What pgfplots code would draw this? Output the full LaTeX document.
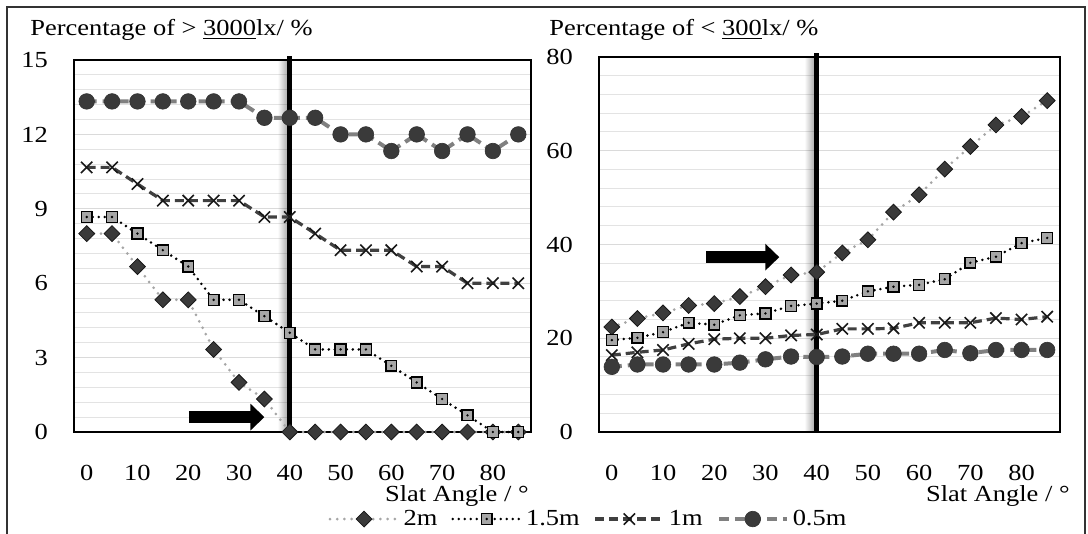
\documentclass[border=0pt]{standalone}
\usepackage{fontspec}
\setmainfont{Liberation Serif}[FakeStretch=1.15]
\usepackage{pgfplots}
\pgfplotsset{compat=1.18}
\usetikzlibrary{arrows.meta,fadings}

\definecolor{lgray}{HTML}{A6A6A6}
\definecolor{dgray}{HTML}{404040}
\definecolor{mgray}{HTML}{808080}
\definecolor{mk}{HTML}{3A3A3A}
\definecolor{gridc}{HTML}{DADADA}

\tikzfading[name=shadowfade, left color=transparent!100, right color=transparent!0]

% square with a dot in the middle (1.5m series)
\pgfdeclareplotmark{sqdot}{%
  \pgfpathrectangle{\pgfqpoint{-\pgfplotmarksize}{-\pgfplotmarksize}}{\pgfqpoint{2\pgfplotmarksize}{2\pgfplotmarksize}}%
  \pgfusepathqfillstroke
  \begin{pgfscope}%
    \pgfpathcircle{\pgfpointorigin}{0.25\pgfplotmarksize}%
    \pgfsetfillcolor{black}\pgfusepathqfill
  \end{pgfscope}%
}

\pgfplotsset{
  slat/.style={
    scale only axis, clip=false,
    xmin=-2.5, xmax=87.5,
    xtick={0,10,...,80},
    major tick length=0pt, minor tick length=0pt,
    ymajorgrids, yminorgrids, minor y tick num=4,
    major grid style={gridc, line width=0.6pt},
    minor grid style={gridc!75, line width=0.5pt},
    axis line style={black, line width=0.6pt},
    tick label style={font=\fontsize{11.5}{13}\selectfont},
    /pgf/number format/assume math mode=true,
    yticklabel style={xshift=-9.5pt},
    xticklabel style={yshift=-13pt},
  },
  s2m/.style={lgray, line width=1.5pt, dash pattern=on 0pt off 3.6pt, line cap=round,
    mark=square*, mark size=2.8pt,
    mark options={solid, rotate=45, fill=mk, draw=black!90, line width=0.4pt}},
  s15m/.style={black, line width=1.4pt, dash pattern=on 0pt off 3pt, line cap=round,
    mark=sqdot, mark size=2.7pt,
    mark options={solid, fill=lgray, draw=black, line width=0.7pt}},
  s1m/.style={dgray, line width=1.6pt, dash pattern=on 4.5pt off 2.5pt,
    mark=x, mark size=4pt,
    mark options={solid, black!90, line width=0.8pt}},
  s05m/.style={mgray, line width=2pt, dash pattern=on 5pt off 3pt,
    mark=*, mark size=3.9pt,
    mark options={solid, fill=mk, draw=black!80, line width=0.3pt}},
}

\begin{document}
\begin{tikzpicture}
\useasboundingbox (0pt,0pt) rectangle (544pt,-267pt);
\draw[black!80, line width=1pt] (3.5pt,-268pt) -- (3.5pt,-3.5pt) -- (542.5pt,-3.5pt) -- (542.5pt,-268pt);

\node[anchor=base west, inner sep=0pt, font=\fontsize{11.5}{13}\selectfont] at (15pt,-17.9pt)
  {Percentage of > \underline{3000}lx/ \%};
\node[anchor=base west, inner sep=0pt, font=\fontsize{11.5}{13}\selectfont] at (274.5pt,-17.9pt)
  {Percentage of < \underline{300}lx/ \%};
\node[anchor=base east, inner sep=0pt, font=\fontsize{11.5}{13}\selectfont] at (264.5pt,-251pt)
  {Slat Angle / °};
\node[anchor=base east, inner sep=0pt, font=\fontsize{11.5}{13}\selectfont] at (535pt,-251pt)
  {Slat Angle / °};

% left: > 3000 lx
\begin{axis}[slat,
  at={(37pt,-216pt)}, anchor=south west,
  width=228.5pt, height=186pt,
  ymin=0, ymax=15, ytick={0,3,...,15},
  legend columns=4,
  legend style={draw=none, fill=none, at={(0.543,-0.234)}, anchor=west,
    font=\fontsize{11.5}{13}\selectfont,
    /tikz/every even column/.append style={column sep=5pt}},
  legend image code/.code={\draw[mark repeat=2,mark phase=2,#1] plot coordinates {(0pt,0pt) (17pt,0pt) (34pt,0pt)};},
]
\fill[black, fill opacity=0.4, path fading=shadowfade] (axis cs:37.6,0) rectangle (axis cs:40,15);
\draw[black, line width=2.5pt] (axis cs:40,0) -- ([yshift=2pt]axis cs:40,15);
\draw[black, line width=6pt, -{Triangle[length=7pt, width=13pt]}] (axis cs:20.1,0.6) -- (axis cs:35,0.6);

\addplot[s2m] coordinates {
(0,8) (5,8) (10,6.67) (15,5.33) (20,5.33) (25,3.33) (30,2) (35,1.33) (40,0)
(45,0) (50,0) (55,0) (60,0) (65,0) (70,0) (75,0) (80,0) (85,0)};
\addlegendentry{2m}
\addplot[s15m] coordinates {
(0,8.67) (5,8.67) (10,8) (15,7.33) (20,6.67) (25,5.33) (30,5.33) (35,4.67) (40,4)
(45,3.33) (50,3.33) (55,3.33) (60,2.67) (65,2) (70,1.33) (75,0.67) (80,0) (85,0)};
\addlegendentry{1.5m}
\addplot[s1m] coordinates {
(0,10.67) (5,10.67) (10,10) (15,9.33) (20,9.33) (25,9.33) (30,9.33) (35,8.67) (40,8.67)
(45,8) (50,7.33) (55,7.33) (60,7.33) (65,6.67) (70,6.67) (75,6) (80,6) (85,6)};
\addlegendentry{1m}
\addplot[s05m] coordinates {
(0,13.33) (5,13.33) (10,13.33) (15,13.33) (20,13.33) (25,13.33) (30,13.33) (35,12.67) (40,12.67)
(45,12.67) (50,12) (55,12) (60,11.33) (65,12) (70,11.33) (75,12) (80,11.33) (85,12)};
\addlegendentry{0.5m}
\end{axis}

% right: < 300 lx
\begin{axis}[slat,
  at={(299.5pt,-216pt)}, anchor=south west,
  width=230.5pt, height=187.5pt,
  ymin=0, ymax=80, ytick={0,20,...,80},
]
\fill[black, fill opacity=0.4, path fading=shadowfade] (axis cs:37.6,0) rectangle (axis cs:40,80);
\draw[black, line width=2.5pt] (axis cs:40,0) -- ([yshift=2pt]axis cs:40,80);
\draw[black, line width=6pt, -{Triangle[length=7pt, width=13pt]}] (axis cs:18.4,37.3) -- (axis cs:32.7,37.3);

\addplot[s2m] coordinates {
(0,22.4) (5,24.2) (10,25.4) (15,27) (20,27.4) (25,28.9) (30,31) (35,33.5) (40,34.1)
(45,38.2) (50,41) (55,46.9) (60,50.6) (65,56.1) (70,60.9) (75,65.5) (80,67.3) (85,70.7)};
\addplot[s15m] coordinates {
(0,19.6) (5,20.1) (10,21.3) (15,23.3) (20,22.9) (25,24.9) (30,25.3) (35,26.9) (40,27.4)
(45,28) (50,30) (55,31) (60,31.4) (65,32.6) (70,36.1) (75,37.4) (80,40.3) (85,41.4)};
\addplot[s1m] coordinates {
(0,16.4) (5,17) (10,17.5) (15,18.8) (20,19.8) (25,20) (30,20) (35,20.6) (40,20.8)
(45,22) (50,22) (55,22.1) (60,23.3) (65,23.3) (70,23.3) (75,24.3) (80,24) (85,24.6)};
\addplot[s05m] coordinates {
(0,13.9) (5,14.4) (10,14.4) (15,14.4) (20,14.4) (25,14.8) (30,15.5) (35,16.1) (40,16)
(45,16.1) (50,16.7) (55,16.7) (60,16.7) (65,17.5) (70,16.8) (75,17.5) (80,17.5) (85,17.5)};
\end{axis}
\end{tikzpicture}
\end{document}
